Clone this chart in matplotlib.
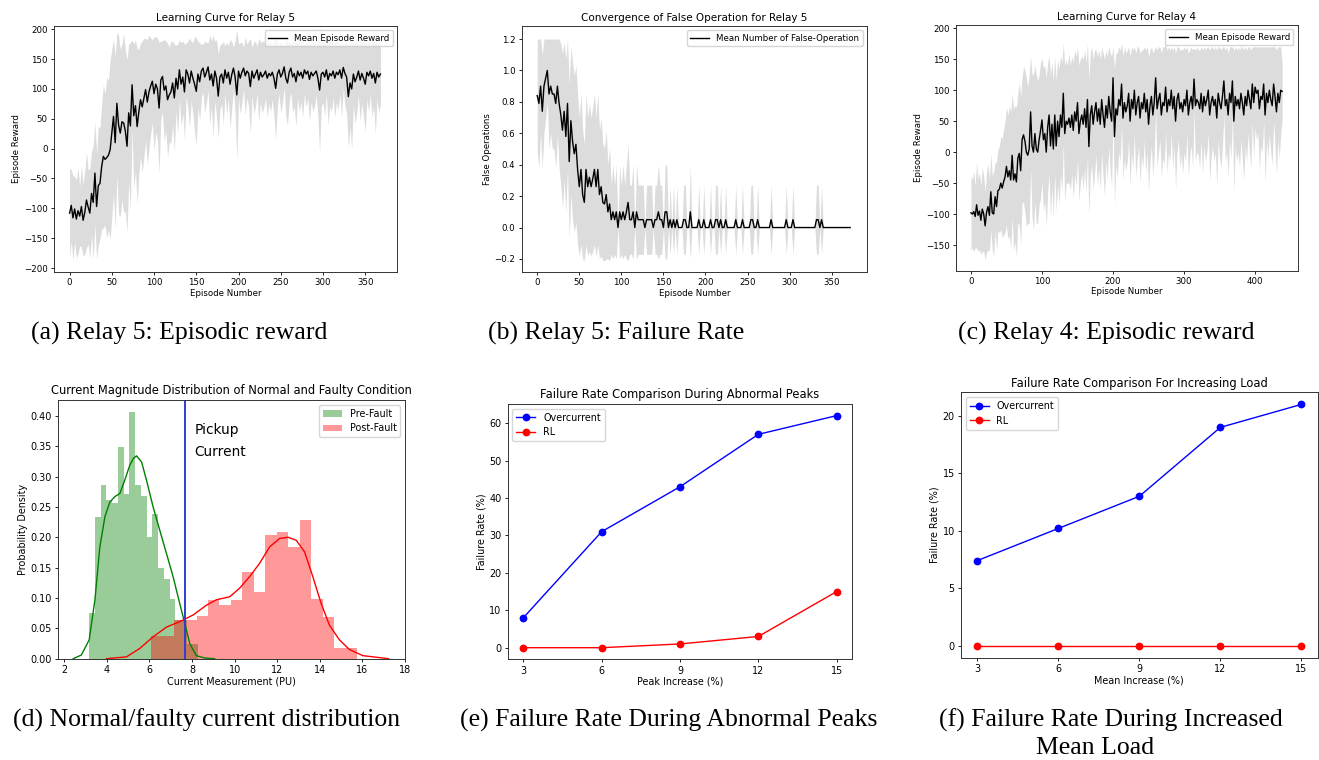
import numpy as np
import matplotlib
matplotlib.use("Agg")
import matplotlib.pyplot as plt

# ---------------- data ----------------
# learning curves are sampled every 2nd episode
EPISODE_STEP = 2

relay5_reward_mean = [
    -108, -95, -116, -101, -118, -104, -113, -97, -120, -107,
    -86, -98, -108, -75, -90, -41, -97, -62, -58, -30,
    -13, -18, -15, -11, -2, 26, 54, 10, 76, 40,
    26, 45, 43, 30, 4, 60, 38, 107, 55, 72,
    37, 62, 82, 70, 85, 99, 78, 95, 105, 113,
    92, 108, 100, 68, 115, 121, 98, 105, 82, 90,
    95, 110, 85, 118, 100, 132, 108, 120, 95, 132,
    125, 110, 130, 118, 108, 96, 125, 112, 130, 135,
    120, 128, 137, 115, 125, 105, 130, 118, 88, 120,
    125, 110, 132, 118, 128, 108, 124, 135, 120, 90,
    130, 118, 128, 135, 122, 130, 126, 104, 130, 118,
    125, 132, 115, 128, 120, 124, 130, 118, 126, 122,
    128, 118, 101, 125, 132, 120, 126, 137, 118, 110,
    128, 135, 120, 126, 112, 130, 122, 128, 118, 132,
    125, 130, 116, 128, 122, 126, 130, 118, 98, 125,
    128, 120, 132, 115, 126, 122, 130, 118, 128, 124,
    132, 118, 136, 126, 120, 87, 110, 100, 125, 112,
    120, 130, 115, 126, 118, 108, 128, 122, 130, 118,
    126, 110, 128, 120, 125,
]
relay5_reward_std = [
    75, 60, 70, 55, 65, 72, 50, 68, 60, 70,
    80, 62, 75, 70, 95, 85, 88, 100, 92, 105,
    120, 110, 135, 125, 150, 140, 130, 145, 120, 150,
    140, 130, 150, 135, 145, 115, 140, 75, 120, 110,
    130, 105, 95, 110, 100, 85, 105, 95, 80, 70,
    95, 80, 85, 110, 65, 60, 85, 75, 95, 80,
    85, 70, 90, 55, 75, 50, 70, 60, 80, 45,
    55, 75, 50, 60, 80, 90, 55, 65, 45, 40,
    60, 50, 40, 75, 55, 85, 50, 65, 70, 55,
    50, 70, 40, 60, 45, 75, 55, 35, 60, 110,
    45, 60, 50, 35, 65, 45, 55, 80, 40, 60,
    55, 40, 70, 50, 60, 55, 45, 65, 50, 60,
    45, 65, 85, 55, 40, 60, 50, 35, 65, 70,
    50, 40, 60, 55, 75, 45, 60, 50, 65, 40,
    55, 45, 70, 50, 60, 55, 40, 65, 105, 55,
    50, 65, 40, 75, 55, 60, 45, 65, 50, 60,
    40, 65, 35, 55, 60, 85, 75, 100, 50, 70,
    60, 40, 70, 50, 65, 80, 45, 60, 40, 65,
    55, 85, 45, 60, 50,
]

relay5_false_mean = [
    0.84, 0.79, 0.90, 0.74, 0.90, 0.95, 1.00, 0.85, 0.90, 0.85,
    0.85, 0.79, 0.90, 0.79, 0.72, 0.62, 0.74, 0.58, 0.79, 0.42,
    0.68, 0.55, 0.47, 0.53, 0.37, 0.26, 0.37, 0.21, 0.16, 0.37,
    0.26, 0.32, 0.26, 0.31, 0.37, 0.26, 0.37, 0.21, 0.26, 0.16,
    0.15, 0.21, 0.10, 0.15, 0.05, 0.10, 0.05, 0.10, 0.00, 0.10,
    0.05, 0.10, 0.05, 0.10, 0.16, 0.05, 0.05, 0.10, 0.00, 0.10,
    0.05, 0.05, 0.05, 0.05, 0.00, 0.05, 0.05, 0.05, 0.05, 0.00,
    0.05, 0.05, 0.10, 0.05, 0.05, 0.00, 0.10, 0.10, 0.00, 0.05,
    0.00, 0.05, 0.00, 0.05, 0.00, 0.00, 0.00, 0.05, 0.05, 0.00,
    0.00, 0.10, 0.00, 0.00, 0.00, 0.00, 0.05, 0.00, 0.00, 0.05,
    0.00, 0.00, 0.00, 0.05, 0.00, 0.00, 0.05, 0.05, 0.00, 0.05,
    0.00, 0.00, 0.05, 0.00, 0.00, 0.00, 0.00, 0.00, 0.05, 0.00,
    0.00, 0.00, 0.05, 0.00, 0.00, 0.00, 0.00, 0.05, 0.05, 0.00,
    0.00, 0.05, 0.00, 0.00, 0.00, 0.00, 0.00, 0.00, 0.00, 0.05,
    0.00, 0.00, 0.00, 0.00, 0.00, 0.00, 0.00, 0.00, 0.05, 0.00,
    0.00, 0.00, 0.05, 0.00, 0.00, 0.00, 0.00, 0.00, 0.00, 0.00,
    0.00, 0.00, 0.00, 0.00, 0.00, 0.00, 0.05, 0.05, 0.00, 0.05,
    0.00, 0.00, 0.00, 0.00, 0.00, 0.00, 0.00, 0.00, 0.00, 0.00,
    0.00, 0.00, 0.00, 0.00, 0.00, 0.00, 0.00,
]
relay5_false_std = [
    0.36, 0.41, 0.30, 0.36, 0.30, 0.25, 0.20, 0.35, 0.30, 0.35,
    0.35, 0.41, 0.30, 0.41, 0.45, 0.49, 0.44, 0.49, 0.41, 0.49,
    0.47, 0.50, 0.50, 0.50, 0.48, 0.44, 0.48, 0.41, 0.37, 0.48,
    0.44, 0.47, 0.44, 0.46, 0.48, 0.44, 0.48, 0.41, 0.44, 0.37,
    0.36, 0.41, 0.30, 0.36, 0.22, 0.30, 0.22, 0.30, 0.00, 0.30,
    0.22, 0.30, 0.22, 0.30, 0.37, 0.22, 0.22, 0.30, 0.00, 0.30,
    0.22, 0.22, 0.22, 0.22, 0.00, 0.22, 0.22, 0.22, 0.22, 0.00,
    0.22, 0.22, 0.30, 0.22, 0.22, 0.00, 0.30, 0.30, 0.00, 0.22,
    0.00, 0.22, 0.00, 0.22, 0.00, 0.00, 0.00, 0.22, 0.22, 0.00,
    0.00, 0.30, 0.00, 0.00, 0.00, 0.00, 0.22, 0.00, 0.00, 0.22,
    0.00, 0.00, 0.00, 0.22, 0.00, 0.00, 0.22, 0.22, 0.00, 0.22,
    0.00, 0.00, 0.22, 0.00, 0.00, 0.00, 0.00, 0.00, 0.22, 0.00,
    0.00, 0.00, 0.22, 0.00, 0.00, 0.00, 0.00, 0.22, 0.22, 0.00,
    0.00, 0.22, 0.00, 0.00, 0.00, 0.00, 0.00, 0.00, 0.00, 0.22,
    0.00, 0.00, 0.00, 0.00, 0.00, 0.00, 0.00, 0.00, 0.22, 0.00,
    0.00, 0.00, 0.22, 0.00, 0.00, 0.00, 0.00, 0.00, 0.00, 0.00,
    0.00, 0.00, 0.00, 0.00, 0.00, 0.00, 0.22, 0.22, 0.00, 0.22,
    0.00, 0.00, 0.00, 0.00, 0.00, 0.00, 0.00, 0.00, 0.00, 0.00,
    0.00, 0.00, 0.00, 0.00, 0.00, 0.00, 0.00,
]

relay4_reward_mean = [
    -98, -100, -96, -104, -85, -102, -95, -110, -92, -100,
    -119, -97, -88, -102, -64, -98, -100, -72, -88, -62,
    -60, -50, -58, -48, -40, -23, -40, -30, -45, -5,
    -45, -35, -48, -10, -2, -30, 20, 28, 18, 0,
    -5, 5, 65, 10, 0, 30, 5, 0, 20, 35,
    52, 20, 30, 0, 40, 60, 10, 45, 5, 60,
    10, 50, 25, 60, 40, 95, 30, 50, 45, 55,
    40, 60, 35, 65, 50, 80, 30, 50, 60, 45,
    70, 40, 85, 9, 60, 75, 45, 65, 80, 50,
    70, 45, 85, 60, 40, 75, 55, 90, 65, 50,
    120, 25, 70, 60, 85, 75, 110, 55, 80, 65,
    75, 95, 50, 85, 70, 100, 60, 80, 90, 55,
    80, 70, 95, 65, 85, 45, 75, 90, 60, 80,
    120, 70, 85, 95, 60, 80, 75, 105, 65, 85,
    75, 100, 70, 90, 50, 85, 95, 70, 80, 65,
    85, 75, 100, 60, 80, 90, 70, 118, 75, 85,
    80, 70, 95, 65, 90, 75, 85, 100, 60, 80,
    90, 75, 85, 55, 95, 80, 70, 90, 115, 75,
    85, 60, 95, 80, 115, 50, 90, 75, 85, 70,
    95, 80, 60, 90, 75, 100, 85, 70, 110, 80,
    105, 95, 100, 70, 90, 85, 110, 60, 95, 80,
    100, 85, 75, 110, 90, 65, 95, 80, 100, 98,
]
relay4_reward_std = [
    60, 55, 65, 50, 70, 58, 62, 55, 68, 60,
    55, 65, 70, 58, 62, 60, 68, 55, 72, 65,
    70, 75, 80, 85, 90, 95, 100, 105, 110, 100,
    115, 110, 120, 105, 115, 120, 100, 110, 115, 120,
    110, 120, 90, 115, 125, 110, 120, 115, 105, 110,
    100, 115, 110, 120, 105, 95, 115, 100, 110, 95,
    105, 100, 110, 95, 105, 80, 110, 100, 95, 105,
    100, 95, 110, 100, 105, 90, 110, 100, 95, 105,
    95, 105, 90, 110, 100, 95, 105, 100, 85, 105,
    95, 105, 85, 100, 110, 90, 100, 80, 95, 105,
    50, 110, 90, 100, 85, 90, 65, 100, 90, 95,
    90, 75, 105, 85, 95, 70, 100, 90, 80, 105,
    85, 95, 75, 100, 85, 110, 90, 80, 100, 85,
    50, 95, 85, 75, 100, 90, 95, 70, 100, 85,
    90, 70, 95, 80, 110, 85, 75, 95, 85, 100,
    85, 90, 70, 100, 85, 80, 95, 50, 90, 85,
    85, 95, 75, 100, 80, 90, 85, 70, 105, 90,
    80, 90, 85, 110, 75, 90, 95, 80, 55, 90,
    85, 100, 75, 90, 55, 115, 80, 90, 85, 95,
    75, 90, 105, 80, 90, 70, 85, 95, 60, 90,
    65, 75, 70, 100, 80, 85, 60, 110, 75, 90,
    70, 85, 95, 60, 80, 100, 75, 90, 70, 45,
]

# current distribution (density per bin)
pre_fault_bin_start, pre_fault_bin_width = 3.17, 0.27
pre_fault_density = [0.076, 0.233, 0.286, 0.262, 0.256, 0.348, 0.272, 0.407, 0.286, 0.268,
                     0.200, 0.238, 0.150, 0.131, 0.099, 0.064, 0.064, 0.024, 0.024]
post_fault_bin_start, post_fault_bin_width = 6.06, 0.538
post_fault_density = [0.038, 0.038, 0.064, 0.064, 0.071, 0.097, 0.088, 0.097, 0.142, 0.109,
                      0.204, 0.208, 0.184, 0.228, 0.099, 0.069, 0.018, 0.018]
pre_fault_kde_x = [2.42, 2.8, 3.17, 3.44, 3.67, 3.91, 4.14, 4.38, 4.61, 4.84, 5.08, 5.25, 5.39,
                   5.63, 5.86, 6.17, 6.48, 6.80, 7.11, 7.42, 7.66, 7.89, 8.20, 8.6, 9.06]
pre_fault_kde_y = [0.0, 0.006, 0.031, 0.097, 0.184, 0.234, 0.258, 0.267, 0.272, 0.294, 0.319, 0.330, 0.334,
                   0.324, 0.294, 0.250, 0.212, 0.173, 0.135, 0.091, 0.058, 0.025, 0.005, 0.001, 0.0]
post_fault_kde_x = [3.98, 4.92, 5.55, 6.17, 6.80, 7.42, 8.05, 8.67, 9.14, 9.77, 10.23, 10.70, 11.17,
                    11.64, 12.11, 12.50, 12.89, 13.28, 13.67, 14.06, 14.45, 14.92, 15.39, 16.02, 17.23]
post_fault_kde_y = [0.0, 0.003, 0.017, 0.036, 0.052, 0.061, 0.072, 0.088, 0.097, 0.102, 0.116, 0.135, 0.157,
                    0.184, 0.198, 0.200, 0.195, 0.176, 0.135, 0.091, 0.055, 0.031, 0.015, 0.005, 0.0]
pickup_current = 7.66

# failure rate comparisons
increase_levels = [3, 6, 9, 12, 15]
peak_overcurrent = [8, 31, 43, 57, 62]
peak_rl = [0, 0, 1, 3, 15]
load_overcurrent = [7.4, 10.2, 13, 19, 21]
load_rl = [0, 0, 0, 0, 0]

# ---------------- styling ----------------
SMALL = 6.2       # top row text
SMALL_TITLE = 7.5
BIG = 6.9         # bottom row text
BIG_TITLE = 8.3
CAPTION_FONT = ['Liberation Serif', 'DejaVu Serif']
CAPTION_SIZE = 18.5


def style_axes(ax, size):
    ax.tick_params(labelsize=size, length=2.5, width=0.6, pad=2)
    for sp in ax.spines.values():
        sp.set_linewidth(0.7)
        sp.set_color('#333333')


# Learning-curve style panel with a shaded band
def plot_learning_curve(ax, mean, std, title, ylabel, label, xlim, ylim, yticks):
    mean = np.array(mean, dtype=float)
    std = np.array(std, dtype=float)
    episodes = np.arange(len(mean)) * EPISODE_STEP
    ax.fill_between(episodes, mean - std, mean + std, color='#dcdcdc', linewidth=0)
    ax.plot(episodes, mean, color='k', linewidth=1.0, label=label)
    ax.set_xlim(*xlim)
    ax.set_ylim(*ylim)
    ax.set_yticks(yticks)
    ax.set_title(title, fontsize=SMALL_TITLE, pad=3.5)
    ax.set_xlabel('Episode Number', fontsize=SMALL, labelpad=1)
    ax.set_ylabel(ylabel, fontsize=SMALL, labelpad=2)
    ax.legend(loc='upper right', fontsize=SMALL, handlelength=2.2, borderpad=0.4)
    style_axes(ax, SMALL)


def plot_failure_rate(ax, over, rl, title, xlabel):
    ax.plot(increase_levels, over, color='b', marker='o', markersize=4.6, linewidth=1.0, label='Overcurrent')
    ax.plot(increase_levels, rl, color='r', marker='o', markersize=4.6, linewidth=1.0, label='RL')
    ax.set_xticks(increase_levels)
    ax.set_title(title, fontsize=BIG_TITLE, pad=4)
    ax.set_xlabel(xlabel, fontsize=BIG, labelpad=1)
    ax.set_ylabel('Failure Rate (%)', fontsize=BIG, labelpad=2)
    ax.legend(loc='upper left', fontsize=BIG, handlelength=2.0, borderpad=0.4)
    style_axes(ax, BIG)


fig = plt.figure(figsize=(13.19, 7.60), dpi=100)

ax_a = fig.add_axes([0.0409, 0.6421, 0.2600, 0.3237])
ax_b = fig.add_axes([0.3955, 0.6421, 0.2618, 0.3237])
ax_c = fig.add_axes([0.7248, 0.6438, 0.2591, 0.3233])
ax_d = fig.add_axes([0.0442, 0.1333, 0.2629, 0.3404])
ax_e = fig.add_axes([0.3849, 0.1325, 0.2613, 0.3359])
ax_f = fig.add_axes([0.7286, 0.1346, 0.2704, 0.3492])

plot_learning_curve(ax_a, relay5_reward_mean, relay5_reward_std, 'Learning Curve for Relay 5',
                    'Episode Reward', 'Mean Episode Reward', (-18.5, 387.5), (-206.7, 205.5),
                    np.arange(-200, 201, 50))
plot_learning_curve(ax_b, relay5_false_mean, relay5_false_std, 'Convergence of False Operation for Relay 5',
                    'False Operations', 'Mean Number of False-Operation', (-18.5, 392), (-0.283, 1.283),
                    np.arange(-0.2, 1.21, 0.2))
plot_learning_curve(ax_c, relay4_reward_mean, relay4_reward_std, 'Learning Curve for Relay 4',
                    'Episode Reward', 'Mean Episode Reward', (-21, 460), (-191.5, 205.3),
                    np.arange(-150, 201, 50))

# (d) current distribution
pre_edges = pre_fault_bin_start + pre_fault_bin_width * np.arange(len(pre_fault_density))
post_edges = post_fault_bin_start + post_fault_bin_width * np.arange(len(post_fault_density))
ax_d.bar(pre_edges, pre_fault_density, width=pre_fault_bin_width, align='edge',
         color='g', alpha=0.4, linewidth=0, label='Pre-Fault')
ax_d.plot(pre_fault_kde_x, pre_fault_kde_y, color='g', linewidth=1.0)
ax_d.bar(post_edges, post_fault_density, width=post_fault_bin_width, align='edge',
         color='r', alpha=0.4, linewidth=0, label='Post-Fault')
ax_d.plot(post_fault_kde_x, post_fault_kde_y, color='r', linewidth=1.0)
ax_d.axvline(pickup_current, color='#2f3fd0', linewidth=1.4)
ax_d.text(8.1, 0.377, 'Pickup', fontsize=9.9, va='center')
ax_d.text(8.1, 0.340, 'Current', fontsize=9.9, va='center')
ax_d.set_xlim(1.72, 18.0)
ax_d.set_ylim(0, 0.426)
ax_d.set_xticks(np.arange(2, 19, 2))
ax_d.set_yticks(np.arange(0, 0.41, 0.05))
ax_d.set_title('Current Magnitude Distribution of Normal and Faulty Condition', fontsize=BIG_TITLE, pad=4)
ax_d.set_xlabel('Current Measurement (PU)', fontsize=BIG, labelpad=1)
ax_d.set_ylabel('Probability Density', fontsize=BIG, labelpad=2)
ax_d.legend(loc='upper right', fontsize=BIG, borderpad=0.4)
style_axes(ax_d, BIG)

# (e), (f) failure rates
plot_failure_rate(ax_e, peak_overcurrent, peak_rl, 'Failure Rate Comparison During Abnormal Peaks',
                  'Peak Increase (%)')
plot_failure_rate(ax_f, load_overcurrent, load_rl, 'Failure Rate Comparison For Increasing Load',
                  'Mean Increase (%)')
ax_e.set_yticks(np.arange(0, 61, 10))
ax_f.set_yticks(np.arange(0, 21, 5))

# sub-figure captions
captions = [
    (179 / 1319, 1 - 333 / 760, '(a) Relay 5: Episodic reward'),
    (616 / 1319, 1 - 333 / 760, '(b) Relay 5: Failure Rate'),
    (1106 / 1319, 1 - 333 / 760, '(c) Relay 4: Episodic reward'),
    (207 / 1319, 1 - 720 / 760, '(d) Normal/faulty current distribution'),
    (669 / 1319, 1 - 720 / 760, '(e) Failure Rate During Abnormal Peaks'),
    (1111 / 1319, 1 - 720 / 760, '(f) Failure Rate During Increased'),
    (1095 / 1319, 1 - 748 / 760, 'Mean Load'),
]
for x, y, txt in captions:
    fig.text(x, y, txt, ha='center', va='center', family=CAPTION_FONT, fontsize=CAPTION_SIZE)

fig.savefig('out.png', dpi=100)
